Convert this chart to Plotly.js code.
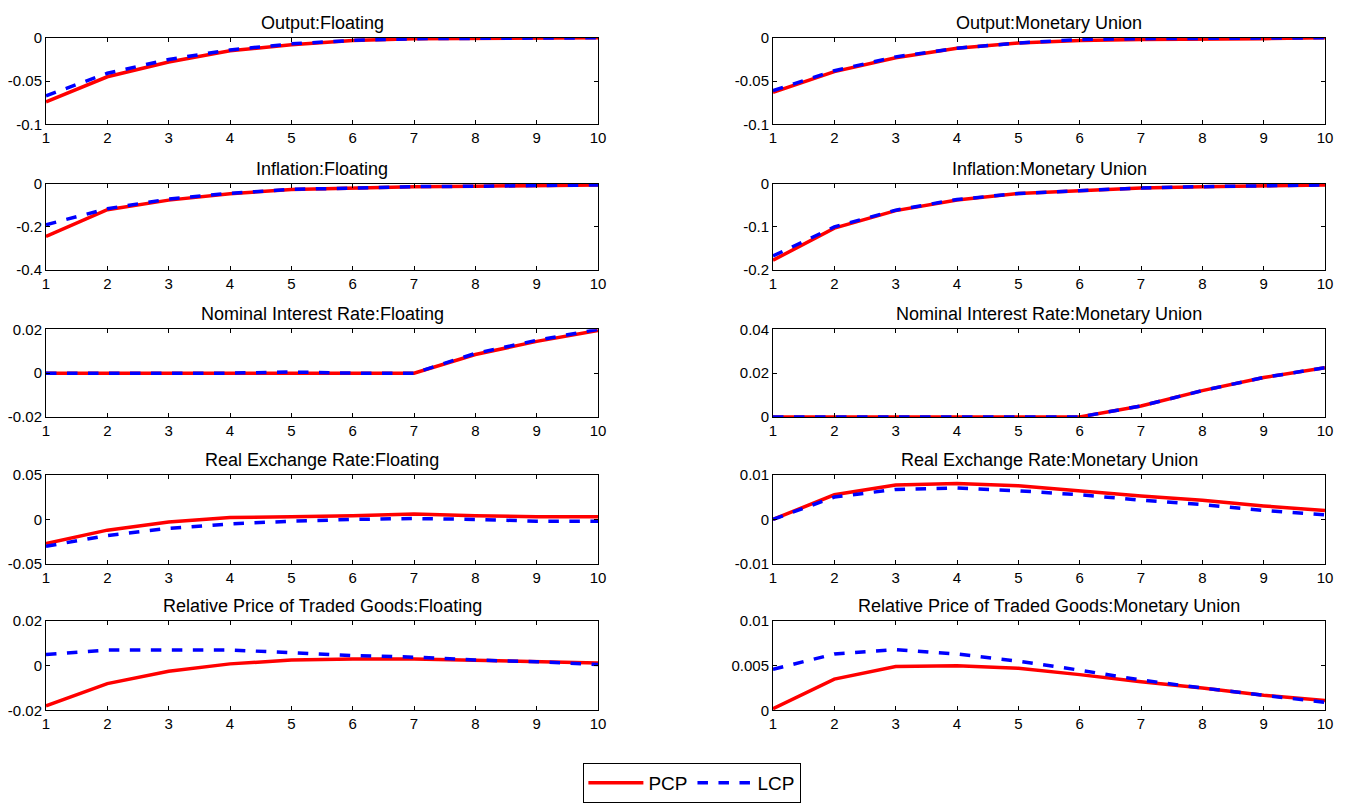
<!DOCTYPE html>
<html><head><meta charset="utf-8">
<script src="https://cdn.plot.ly/plotly-3.0.1.min.js"></script>
<style>body{margin:0;background:#fff}#chart{width:1351px;height:803px}</style>
</head><body><div id="chart"></div>
<script>
const periods = [1,2,3,4,5,6,7,8,9,10];
const seriesNames = ["PCP","LCP"];

const titles = [
  "Output:Floating","Output:Monetary Union",
  "Inflation:Floating","Inflation:Monetary Union",
  "Nominal Interest Rate:Floating","Nominal Interest Rate:Monetary Union",
  "Real Exchange Rate:Floating","Real Exchange Rate:Monetary Union",
  "Relative Price of Traded Goods:Floating","Relative Price of Traded Goods:Monetary Union"
];

const outputFloatPCP = [-0.074,-0.045,-0.028,-0.015,-0.008,-0.003,-0.001,-0.001,-0.001,0];
const outputFloatLCP = [-0.067,-0.041,-0.025,-0.014,-0.007,-0.003,-0.001,-0.001,-0.001,0];
const outputMUPCP = [-0.063,-0.039,-0.023,-0.012,-0.006,-0.003,-0.002,-0.002,-0.001,0];
const outputMULCP = [-0.061,-0.038,-0.022,-0.012,-0.006,-0.002,-0.001,-0.001,-0.001,0];

const inflFloatPCP = [-0.245,-0.12,-0.075,-0.045,-0.025,-0.018,-0.012,-0.01,-0.006,-0.004];
const inflFloatLCP = [-0.19,-0.115,-0.07,-0.043,-0.025,-0.018,-0.012,-0.01,-0.006,-0.004];
const inflMUPCP = [-0.178,-0.103,-0.062,-0.037,-0.022,-0.015,-0.009,-0.006,-0.004,-0.002];
const inflMULCP = [-0.168,-0.1,-0.061,-0.036,-0.022,-0.015,-0.009,-0.006,-0.004,-0.002];

const rateFloatPCP = [0,0,0,0,0,0,0,0.0085,0.0145,0.0195];
const rateFloatLCP = [0,0,0,0,0.0005,0,0,0.009,0.015,0.02];
const rateMUPCP = [0,0,0,0,0,0,0.005,0.012,0.018,0.0225];
const rateMULCP = [0,0,0,0,0,0,0.005,0.012,0.018,0.0225];

const rerFloatPCP = [-0.027,-0.012,-0.003,0.002,0.003,0.004,0.006,0.004,0.003,0.003];
const rerFloatLCP = [-0.03,-0.018,-0.01,-0.005,-0.002,0,0.001,0,-0.002,-0.002];
const rerMUPCP = [0,0.0055,0.0077,0.008,0.0075,0.0063,0.0052,0.0043,0.003,0.002];
const rerMULCP = [0,0.005,0.0067,0.007,0.0064,0.0055,0.0043,0.0033,0.002,0.001];

const relFloatPCP = [-0.018,-0.008,-0.0025,0.0008,0.0025,0.003,0.003,0.0025,0.002,0.0012];
const relFloatLCP = [0.005,0.007,0.007,0.007,0.0058,0.0045,0.0038,0.0025,0.0018,0.0005];
const relMUPCP = [0.0002,0.0035,0.0049,0.005,0.0047,0.004,0.0032,0.0025,0.0017,0.0011];
const relMULCP = [0.0046,0.0063,0.0068,0.0063,0.0055,0.0045,0.0034,0.0025,0.0017,0.0009];

const yTicks = [
  [-0.1,-0.05,0],[-0.1,-0.05,0],
  [-0.4,-0.2,0],[-0.2,-0.1,0],
  [-0.02,0,0.02],[0,0.02,0.04],
  [-0.05,0,0.05],[-0.01,0,0.01],
  [-0.02,0,0.02],[0,0.005,0.01]
];
const yTickText = [
  ["-0.1","-0.05","0"],["-0.1","-0.05","0"],
  ["-0.4","-0.2","0"],["-0.2","-0.1","0"],
  ["-0.02","0","0.02"],["0","0.02","0.04"],
  ["-0.05","0","0.05"],["-0.01","0","0.01"],
  ["-0.02","0","0.02"],["0","0.005","0.01"]
];

const panels = [
  [outputFloatPCP,outputFloatLCP],[outputMUPCP,outputMULCP],
  [inflFloatPCP,inflFloatLCP],[inflMUPCP,inflMULCP],
  [rateFloatPCP,rateFloatLCP],[rateMUPCP,rateMULCP],
  [rerFloatPCP,rerFloatLCP],[rerMUPCP,rerMULCP],
  [relFloatPCP,relFloatLCP],[relMUPCP,relMULCP]
];

const W = 1351, H = 803;
const colPix = [[46,598],[773,1325]];
const rowPix = [[38,125],[185,271],[331,419],[477,567],[624,714]];
const FONT = "Liberation Sans, Arial, sans-serif";

const data = [];
const layout = {
  width: W, height: H,
  margin: {l:0,r:0,t:0,b:0},
  paper_bgcolor: "#fff", plot_bgcolor: "#fff",
  showlegend: true,
  legend: {orientation:"h", x:0.5125, xanchor:"center", y:1-767/H, yanchor:"top",
           bordercolor:"#000", borderwidth:1, font:{family:FONT, size:19, color:"#000"},
           bgcolor:"#fff", itemwidth:55, tracegroupgap:0},
  annotations: []
};

panels.forEach((p, i) => {
  const r = Math.floor(i/2), c = i%2;
  const n = i+1;
  const xa = "x"+(n===1?"":n), ya = "y"+(n===1?"":n);
  const xk = "xaxis"+(n===1?"":n), yk = "yaxis"+(n===1?"":n);
  data.push({x:periods, y:p[0], xaxis:xa, yaxis:ya, type:"scatter", mode:"lines",
    name:seriesNames[0], legendgroup:"pcp", showlegend:i===0,
    line:{color:"#ff0000", width:3.5}});
  data.push({x:periods, y:p[1], xaxis:xa, yaxis:ya, type:"scatter", mode:"lines",
    name:seriesNames[1], legendgroup:"lcp", showlegend:i===0,
    line:{color:"#0000ff", width:3.5, dash:"dash"}});
  const tks = yTicks[i];
  layout[xk] = {
    domain:[colPix[c][0]/W, colPix[c][1]/W], anchor:ya,
    range:[1,10], tickvals:periods, ticktext:periods.map(String),
    ticks:"inside", ticklen:4, tickcolor:"#000", showline:true, linecolor:"#000", linewidth:1,
    mirror:"ticks", showgrid:false, zeroline:false,
    tickfont:{family:FONT, size:15, color:"#000"}
  };
  layout[yk] = {
    domain:[1-rowPix[r][1]/H, 1-rowPix[r][0]/H], anchor:xa,
    range:[tks[0], tks[2]], tickvals:tks, ticktext:yTickText[i],
    ticks:"inside", ticklen:4, tickcolor:"#000", showline:true, linecolor:"#000", linewidth:1,
    mirror:"ticks", showgrid:false, zeroline:false,
    tickfont:{family:FONT, size:15, color:"#000"}
  };
  layout.annotations.push({
    text: titles[i], xref:"paper", yref:"paper",
    x:(colPix[c][0]+colPix[c][1])/2/W, y:1-rowPix[r][0]/H + 3/H,
    xanchor:"center", yanchor:"bottom", showarrow:false,
    font:{family:FONT, size:18, color:"#000"}
  });
});

Plotly.newPlot("chart", data, layout, {displayModeBar:false, staticPlot:true});
</script></body></html>
